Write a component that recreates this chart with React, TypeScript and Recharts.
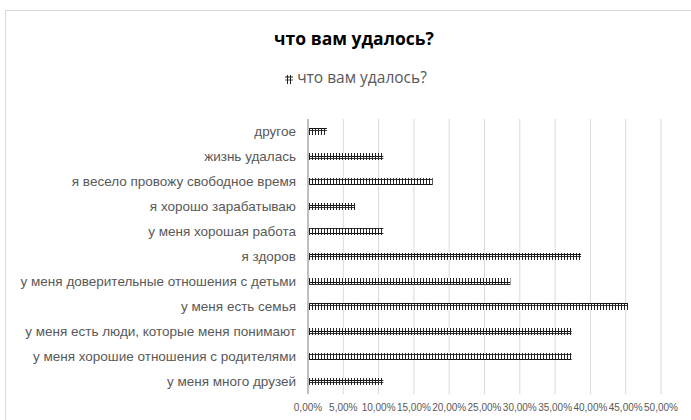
import { Bar, BarChart, CartesianGrid, XAxis, YAxis } from 'recharts';

const categories = [
  'другое',
  'жизнь удалась',
  'я весело провожу свободное время',
  'я хорошо зарабатываю',
  'у меня хорошая работа',
  'я здоров',
  'у меня доверительные отношения с детьми',
  'у меня есть семья',
  'у меня есть люди, которые меня понимают',
  'у меня хорошие отношения с родителями',
  'у меня много друзей',
];

const values = [0.0267, 0.1067, 0.1767, 0.0667, 0.1067, 0.3867, 0.2867, 0.4533, 0.3733, 0.3733, 0.1067];

const xTicks = [0, 0.05, 0.1, 0.15, 0.2, 0.25, 0.3, 0.35, 0.4, 0.45, 0.5];

const SERIES = 'что вам удалось?';

const data = categories.map((c, i) => ({ category: c, value: values[i] }));

const fmtPct = (v: number) => (v * 100).toFixed(2).replace('.', ',') + '%';

function HatchIcon() {
  return (
    <svg width={8} height={10} style={{ marginRight: 4, verticalAlign: 'middle' }}>
      <line x1={0} y1={3} x2={8} y2={3} stroke="#222" strokeWidth={1} />
      <line x1={0} y1={6} x2={8} y2={6} stroke="#555" strokeWidth={1} />
      <line x1={2.5} y1={1} x2={2.5} y2={10} stroke="#222" strokeWidth={1} />
      <line x1={5.5} y1={1} x2={5.5} y2={10} stroke="#222" strokeWidth={1} />
    </svg>
  );
}

export default function App() {
  return (
    <div style={{ position: 'absolute', left: 0, top: 0, width: 691, height: 420, overflow: 'hidden', background: '#fff' }}>
      <div
        style={{
          position: 'absolute',
          left: 5,
          top: 10,
          width: 720,
          height: 440,
          border: '1px solid #d9d9d9',
        }}
      />
      <div
        style={{
          position: 'absolute',
          left: 0,
          top: 26,
          width: 708,
          textAlign: 'center',
          fontFamily: '"Open Sans", "Noto Sans", sans-serif',
          fontWeight: 700,
          fontSize: 17.5,
          color: '#000',
        }}
      >
        {SERIES}
      </div>
      <div
        style={{
          position: 'absolute',
          left: 0,
          top: 66,
          width: 712,
          textAlign: 'center',
          fontFamily: '"Open Sans", "Noto Sans", sans-serif',
          fontSize: 15.5,
          color: '#595959',
        }}
      >
        <HatchIcon />
        {SERIES}
      </div>
      <BarChart
        width={691}
        height={420}
        data={data}
        layout="vertical"
        margin={{ top: 119, right: 30, bottom: 6, left: 0 }}
        style={{ position: 'absolute', left: 0, top: 0 }}
      >
        <defs>
          <pattern id="hatch" patternUnits="userSpaceOnUse" width={3} height={7}>
            <rect x={0} y={0} width={3} height={7} fill="#fff" />
            <line x1={0} y1={2.5} x2={3} y2={2.5} stroke="#111" strokeWidth={1} />
            <line x1={0} y1={4.5} x2={3} y2={4.5} stroke="#333" strokeWidth={1} />
            <line x1={0.5} y1={0} x2={0.5} y2={7} stroke="#222" strokeWidth={1} />
          </pattern>
        </defs>
        <CartesianGrid horizontal={false} stroke="#d9d9d9" strokeWidth={1} />
        <XAxis
          type="number"
          domain={[0, 0.5]}
          ticks={xTicks}
          tickFormatter={fmtPct}
          axisLine={false}
          tickLine={false}
          height={20}
          tickMargin={4}
          interval={0}
          tick={{ fill: '#595959', fontSize: 10, fontFamily: '"Liberation Sans", Arial, sans-serif' }}
        />
        <YAxis
          type="category"
          dataKey="category"
          width={308}
          axisLine={{ stroke: '#bfbfbf', strokeWidth: 2 }}
          tickLine={false}
          tickMargin={6}
          interval={0}
          tick={{ fill: '#595959', fontSize: 13.5, fontFamily: '"Liberation Sans", Arial, sans-serif' }}
        />
        <Bar dataKey="value" name={SERIES} fill="url(#hatch)" barSize={7} isAnimationActive={false} />
      </BarChart>
    </div>
  );
}
